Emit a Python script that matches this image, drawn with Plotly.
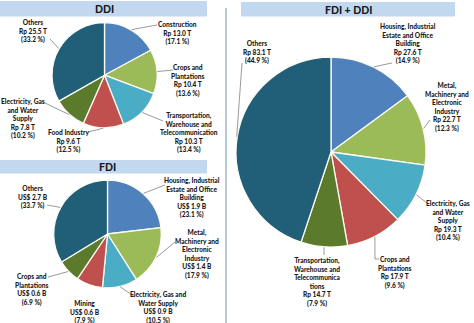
import math
import plotly.graph_objects as go

W, H = 474, 323

# ---------------- data ----------------
ddi_names = ["Construction", "Crops and<br>Plantations",
             "Transportation,<br>Warehouse and<br>Telecommunication",
             "Food Industry", "Electricity, Gas<br>and Water<br>Supply", "Others"]
ddi_amounts = ["Rp 13.0 T", "Rp 10.4 T", "Rp 10.3 T", "Rp 9.6 T", "Rp 7.8 T", "Rp 25.5 T"]
ddi_pct = [17.1, 13.6, 13.4, 12.5, 10.2, 33.2]

fdi_names = ["Housing, Industrial<br>Estate and Office<br>Building",
             "Metal,<br>Machinery and<br>Electronic<br>Industry",
             "Electricity, Gas and<br>Water Supply", "Mining",
             "Crops and<br>Plantations", "Others"]
fdi_amounts = ["US$ 1.9 B", "US$ 1.4 B", "US$ 0.9 B", "US$ 0.6 B", "US$ 0.6 B", "US$ 2.7 B"]
fdi_pct = [23.1, 17.9, 10.5, 7.9, 6.9, 33.7]

tot_names = ["Housing, Industrial<br>Estate and Office<br>Building",
             "Metal,<br>Machinery and<br>Electronic<br>Industry",
             "Electricity, Gas<br>and Water<br>Supply", "Crops and<br>Plantations",
             "Transportation,<br>Warehouse and<br>Telecommunica<br>tions", "Others"]
tot_amounts = ["Rp 27.6 T", "Rp 22.7 T", "Rp 19.3 T", "Rp 17.9 T", "Rp 14.7 T", "Rp 83.1 T"]
tot_pct = [14.9, 12.3, 10.4, 9.6, 7.9, 44.9]

titles = ["DDI", "FDI", "FDI + DDI"]

# ---------------- styles / layout ----------------
BLUE, GREEN, LBLUE, RED, OLIVE, TEAL = "#4f81bd", "#9bbb59", "#4bacc6", "#c0504d", "#5b7a2c", "#215f78"
ddi_colors = [BLUE, GREEN, LBLUE, RED, OLIVE, TEAL]
fdi_colors = [BLUE, GREEN, LBLUE, RED, OLIVE, TEAL]
tot_colors = [BLUE, GREEN, LBLUE, RED, OLIVE, TEAL]

FONT = "Lato"
TXT = "#1a1a1a"
LEAD = "#808080"

panels = [
    dict(names=ddi_names, amounts=ddi_amounts, pct=ddi_pct, colors=ddi_colors,
         center=(104.5, 75.2), r=52.5,
         title_pos=(104, 9), bar=(0, 1, 207, 16.5),
         text_pos=[(177, 32.5), (188, 80.5), (189, 132), (68, 140.5), (23, 118.5), (33, 31)],
         leads=[[(157, 25)], [(173, 70)], [(163, 121)], [(88, 132)], [(43, 102)], [(50, 39)]]),
    dict(names=fdi_names, amounts=fdi_amounts, pct=fdi_pct, colors=fdi_colors,
         center=(107.5, 234), r=53.8,
         title_pos=(107, 167), bar=(0, 160, 207, 173.5),
         text_pos=[(192, 197.5), (197, 253.5), (158, 307.5), (85, 311.5), (32, 289), (33, 197)],
         leads=[[(165, 185)], [(175, 242)], [(135, 297)], None, [(48, 277)], [(47, 205)]]),
    dict(names=tot_names, amounts=tot_amounts, pct=tot_pct, colors=tot_colors,
         center=(331, 152), r=95,
         title_pos=(348, 10), bar=(241, 2, 455, 16.5),
         text_pos=[(408, 43.5), (447, 107), (448, 220.5), (395, 272.5), (317, 281.5), (257, 52)],
         leads=[[(392, 63)], [(430, 120)], [(427, 203)], [(375, 259), (379, 259)],
                [(324, 255)], [(242, 63)]]),
]

def px(x):
    return x / W

def py(y):
    return 1 - y / H

fig = go.Figure()
shapes = []
annotations = []

# panel separator line
shapes.append(dict(type="line", xref="paper", yref="paper",
                   x0=px(226), x1=px(226), y0=py(8), y1=py(323),
                   line=dict(color="#a3b7c9", width=1.5)))

for i, p in enumerate(panels):
    cx, cy = p["center"]
    r = p["r"]
    # title bar
    bx0, by0, bx1, by1 = p["bar"]
    shapes.append(dict(type="rect", xref="paper", yref="paper",
                       x0=px(bx0), x1=px(bx1), y0=py(by1), y1=py(by0),
                       fillcolor="#c2d8ee", line=dict(width=0), layer="below"))
    annotations.append(dict(text=titles[i], x=px(p["title_pos"][0]), y=py(p["title_pos"][1]),
                            xref="paper", yref="paper", showarrow=False,
                            xanchor="center", yanchor="middle",
                            font=dict(family=FONT, size=10.5, color=TXT, weight=900)))
    fig.add_trace(go.Pie(
        values=p["pct"],
        labels=[n.replace("<br>", " ") for n in p["names"]],
        marker=dict(colors=p["colors"], line=dict(color="#fbfbf3", width=1.3)),
        sort=False, direction="clockwise", rotation=0,
        textinfo="none", showlegend=False,
        domain=dict(x=[px(cx - r), px(cx + r)], y=[py(cy + r), py(cy - r)]),
    ))
    total = sum(p["pct"])
    cum = 0
    for j, v in enumerate(p["pct"]):
        mid = (cum + v / 2) / total * 2 * math.pi
        cum += v
        ex = cx + (r + 0.5) * math.sin(mid)
        ey = cy - (r + 0.5) * math.cos(mid)
        tx, ty = p["text_pos"][j]
        label = "%s<br>%s<br>(%.1f %%)" % (p["names"][j], p["amounts"][j], v)
        annotations.append(dict(text=label, x=px(tx), y=py(ty), xref="paper", yref="paper",
                                showarrow=False, xanchor="center", yanchor="middle", align="center",
                                font=dict(family=FONT, size=6.6, color=TXT, weight=900)))
        pts = p["leads"][j]
        if pts:
            path = "M %f %f" % (px(ex), py(ey))
            for (lx, ly) in pts:
                path += " L %f %f" % (px(lx), py(ly))
            shapes.append(dict(type="path", xref="paper", yref="paper", path=path,
                               line=dict(color=LEAD, width=0.8)))

fig.update_layout(
    width=W, height=H,
    margin=dict(l=0, r=0, t=0, b=0),
    paper_bgcolor="white", plot_bgcolor="white",
    shapes=shapes, annotations=annotations,
)

fig.write_html("out.html")
